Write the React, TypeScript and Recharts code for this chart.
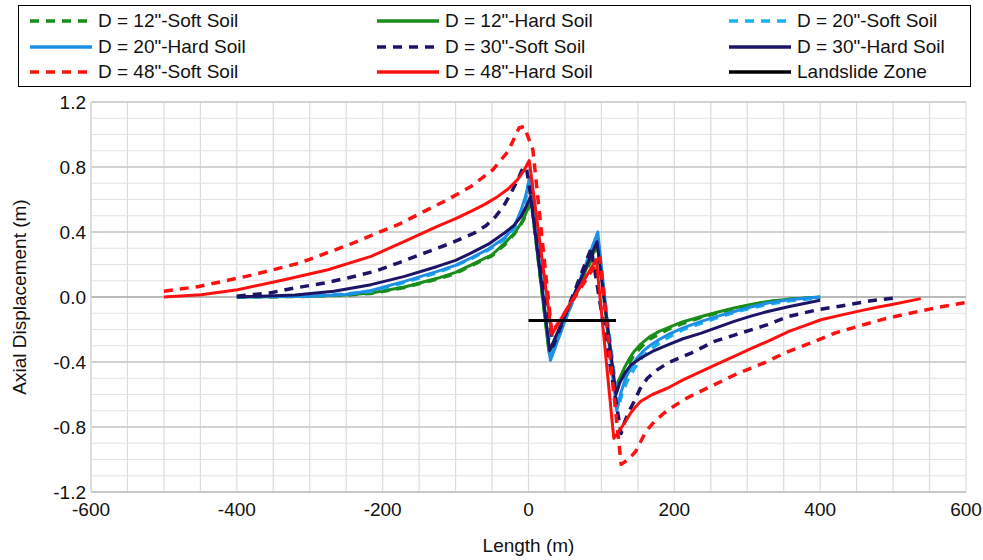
import React from 'react';
import { LineChart, Line, XAxis, YAxis, CartesianGrid, Label } from 'recharts';

// axis ticks
const xTicks = [-600, -400, -200, 0, 200, 400, 600];
const yTicks = [-1.2, -0.8, -0.4, 0, 0.4, 0.8, 1.2];

// [length (m), axial displacement (m)]
const d12Soft: [number, number][] = [
  [-400, 0], [-300, 0.004], [-250, 0.012], [-216, 0.022], [-170, 0.058], [-125, 0.11],
  [-100, 0.145], [-80, 0.19], [-50, 0.255], [-33, 0.32], [-20, 0.385], [-10, 0.45], [-4, 0.5],
  [0, 0.55], [4, 0.58], [29, -0.35], [95, 0.32], [119, -0.6], [124, -0.54], [131, -0.48],
  [137, -0.42], [144, -0.36], [154, -0.31], [166, -0.26], [180, -0.225], [191, -0.2],
  [210, -0.165], [237, -0.125], [260, -0.097], [282, -0.072], [305, -0.05], [328, -0.03],
  [360, -0.014], [400, -0.002],
];
const d12Hard: [number, number][] = [
  [-400, 0], [-350, 0.002], [-300, 0.005], [-250, 0.013], [-216, 0.025], [-170, 0.062],
  [-125, 0.115], [-100, 0.152], [-80, 0.195], [-50, 0.26], [-33, 0.33], [-20, 0.39],
  [-10, 0.455], [-4, 0.51], [0, 0.56], [4, 0.59], [28, -0.34], [95, 0.33], [118, -0.58],
  [122, -0.53], [126, -0.49], [131, -0.44], [137, -0.39], [144, -0.34], [154, -0.29],
  [166, -0.245], [180, -0.21], [191, -0.19], [210, -0.155], [237, -0.12], [260, -0.092],
  [282, -0.068], [305, -0.046], [328, -0.027], [360, -0.012], [400, 0],
];
const d20Soft: [number, number][] = [
  [-400, 0], [-300, 0.006], [-250, 0.018], [-216, 0.035], [-170, 0.09], [-125, 0.15],
  [-102, 0.19], [-79, 0.235], [-55, 0.29], [-33, 0.355], [-20, 0.42], [-10, 0.52], [-4, 0.6],
  [1, 0.72], [31, -0.37], [94, 0.38], [123, -0.68], [128, -0.6], [135, -0.52], [145, -0.44],
  [156, -0.37], [168, -0.32], [180, -0.28], [191, -0.25], [212, -0.2], [237, -0.16],
  [260, -0.125], [282, -0.095], [305, -0.068], [328, -0.045], [360, -0.022], [400, -0.005],
];
const d20Hard: [number, number][] = [
  [-400, 0], [-300, 0.004], [-250, 0.016], [-216, 0.04], [-170, 0.096], [-125, 0.158],
  [-100, 0.195], [-79, 0.24], [-55, 0.295], [-33, 0.363], [-20, 0.43], [-10, 0.537],
  [-4, 0.62], [2, 0.74], [30, -0.39], [95, 0.4], [121, -0.7], [126, -0.6], [133, -0.5],
  [140, -0.44], [148, -0.38], [158, -0.33], [168, -0.294], [180, -0.26], [191, -0.232],
  [212, -0.19], [237, -0.15], [260, -0.118], [282, -0.089], [305, -0.062], [328, -0.037],
  [360, -0.015], [400, 0],
];
const d30Soft: [number, number][] = [
  [-400, 0.005], [-355, 0.025], [-321, 0.055], [-280, 0.086], [-248, 0.117], [-211, 0.158],
  [-179, 0.209], [-143, 0.27], [-106, 0.332], [-74, 0.394], [-58, 0.44], [-45, 0.496],
  [-34, 0.56], [-24, 0.64], [-15, 0.72], [-8, 0.79], [-3, 0.8], [34, -0.3], [86, 0.3],
  [127, -0.84], [131, -0.78], [137, -0.71], [145, -0.642], [153, -0.565], [163, -0.5],
  [176, -0.45], [191, -0.406], [207, -0.375], [223, -0.345], [255, -0.273], [291, -0.222],
  [328, -0.17], [356, -0.12], [397, -0.078], [433, -0.052], [470, -0.023], [502, -0.006],
];
const d30Hard: [number, number][] = [
  [-400, 0], [-320, 0.012], [-267, 0.035], [-216, 0.076], [-170, 0.127], [-125, 0.188],
  [-100, 0.225], [-79, 0.27], [-55, 0.325], [-33, 0.394], [-20, 0.44], [-10, 0.496],
  [-3, 0.56], [3, 0.62], [29, -0.33], [94, 0.34], [120, -0.6], [125, -0.53], [132, -0.47],
  [140, -0.42], [154, -0.375], [170, -0.335], [191, -0.294], [212, -0.257], [237, -0.222],
  [260, -0.185], [282, -0.15], [305, -0.118], [328, -0.089], [358, -0.058], [380, -0.038],
  [400, -0.02],
];
const d48Soft: [number, number][] = [
  [-500, 0.035], [-452, 0.065], [-381, 0.133], [-314, 0.209], [-246, 0.322], [-202, 0.404],
  [-179, 0.445], [-143, 0.527], [-111, 0.599], [-79, 0.68], [-49, 0.783], [-28, 0.896],
  [-13, 1.04], [-6, 1.05], [6, 0.906], [32, -0.22], [98, 0.24], [127, -1.03], [137, -1.0],
  [147, -0.95], [161, -0.827], [173, -0.765], [186, -0.714], [200, -0.67], [218, -0.62],
  [250, -0.55], [287, -0.47], [323, -0.406], [351, -0.345], [387, -0.283], [420, -0.222],
  [456, -0.175], [488, -0.135], [525, -0.098], [561, -0.064], [596, -0.037], [600, -0.035],
];
const d48Hard: [number, number][] = [
  [-500, 0], [-449, 0.014], [-399, 0.045], [-335, 0.106], [-275, 0.168], [-216, 0.25],
  [-170, 0.342], [-125, 0.434], [-100, 0.482], [-79, 0.527], [-60, 0.57], [-42, 0.619],
  [-28, 0.665], [-15, 0.722], [-6, 0.78], [1, 0.84], [32, -0.23], [93, 0.23], [117, -0.87],
  [122, -0.84], [127, -0.806], [134, -0.76], [140, -0.714], [147, -0.675], [154, -0.642],
  [170, -0.6], [191, -0.56], [212, -0.51], [237, -0.458], [260, -0.41], [282, -0.366],
  [305, -0.318], [328, -0.273], [358, -0.21], [380, -0.175], [401, -0.14], [430, -0.11],
  [456, -0.084], [480, -0.062], [502, -0.043], [538, -0.01],
];
const landslide: [number, number][] = [[0, -0.145], [120, -0.145]];

const GREEN = '#1a8c1a';
const LIGHTBLUE = '#16b2f0';
const BLUE = '#1e8fe6';
const NAVY = '#1c1466';
const RED = '#ff1010';

const series = [
  { name: 'D = 12"-Soft Soil', pts: d12Soft, color: GREEN, dash: true },
  { name: 'D = 12"-Hard Soil', pts: d12Hard, color: GREEN, dash: false },
  { name: 'D = 20"-Soft Soil', pts: d20Soft, color: LIGHTBLUE, dash: true },
  { name: 'D = 20"-Hard Soil', pts: d20Hard, color: BLUE, dash: false },
  { name: 'D = 30"-Soft Soil', pts: d30Soft, color: NAVY, dash: true },
  { name: 'D = 30"-Hard Soil', pts: d30Hard, color: NAVY, dash: false },
  { name: 'D = 48"-Soft Soil', pts: d48Soft, color: RED, dash: true },
  { name: 'D = 48"-Hard Soil', pts: d48Hard, color: RED, dash: false },
  { name: 'Landslide Zone', pts: landslide, color: '#000000', dash: false },
];

const FONT = "'Liberation Sans', Arial, sans-serif";

const vGrid = Array.from({ length: 25 }, (_, i) => -600 + i * 50);
const hMinor = Array.from({ length: 25 }, (_, i) => (i - 12) / 10);
const hMajor = [-1.2, -0.8, -0.4, 0.4, 0.8, 1.2];

const LegendBox = () => {
  const colX = [9, 356, 708];
  const rowY = [3, 29, 54];
  return (
    <div style={{
      position: 'absolute', left: 18, top: 5, width: 953, height: 82,
      border: '1px solid #000', boxSizing: 'border-box', background: '#fff',
    }}>
      {series.map((s, i) => (
        <div key={s.name} style={{
          position: 'absolute', left: colX[i % 3], top: rowY[Math.floor(i / 3)],
          display: 'flex', alignItems: 'center', height: 24,
        }}>
          <svg width={66} height={10} style={{ marginRight: 4 }}>
            <line x1={2} y1={5} x2={64} y2={5} stroke={s.color} strokeWidth={3.5}
              strokeDasharray={s.dash ? '9 7' : undefined} />
          </svg>
          <span style={{ fontFamily: FONT, fontSize: 19, color: '#111' }}>{s.name}</span>
        </div>
      ))}
    </div>
  );
};

export default function App() {
  return (
    <div style={{ position: 'absolute', left: 0, top: 0, width: 983, height: 560, background: '#fff' }}>
      <LineChart width={983} height={560} margin={{ top: 102, right: 17, bottom: 0, left: 0 }}
        style={{ fontFamily: FONT }}>
        <CartesianGrid horizontal={false} verticalValues={vGrid} stroke="#dcdcdc" strokeWidth={1.2} />
        <CartesianGrid vertical={false} horizontalValues={hMinor} stroke="#e3e3e3" strokeWidth={1.2} />
        <CartesianGrid vertical={false} horizontalValues={hMajor} stroke="#c9c9c9" strokeWidth={1.5} />
        <CartesianGrid vertical={false} horizontalValues={[0]} stroke="#a8a8a8" strokeWidth={1.5} />
        <XAxis dataKey="x" type="number" domain={[-600, 600]} ticks={xTicks} allowDataOverflow
          height={68} tickSize={0} tickMargin={11} interval={0}
          axisLine={{ stroke: '#c4c4c4', strokeWidth: 1.5 }}
          tick={{ fill: '#111', fontSize: 19 }}>
          <Label value="Length (m)" position="insideBottom" offset={8}
            style={{ fill: '#111', fontSize: 19 }} />
        </XAxis>
        <YAxis dataKey="y" type="number" domain={[-1.2, 1.2]} ticks={yTicks} allowDataOverflow
          width={91} tickSize={0} tickMargin={5} interval={0}
          tickFormatter={(v: number) => v.toFixed(1)}
          axisLine={{ stroke: '#d6d6d6', strokeWidth: 1.2 }}
          tick={{ fill: '#111', fontSize: 19 }}>
          <Label value="Axial Displacement (m)" angle={-90} position="insideLeft" offset={19}
            style={{ fill: '#111', fontSize: 19, textAnchor: 'middle' }} />
        </YAxis>
        {series.map((s) => (
          <Line key={s.name} data={s.pts.map(([x, y]) => ({ x, y }))} dataKey="y" name={s.name}
            type="linear" stroke={s.color} strokeWidth={s.dash ? 3.5 : 3}
            strokeDasharray={s.dash ? '9 7' : undefined} strokeLinejoin="round"
            dot={false} activeDot={false} isAnimationActive={false} />
        ))}
      </LineChart>
      <LegendBox />
    </div>
  );
}
